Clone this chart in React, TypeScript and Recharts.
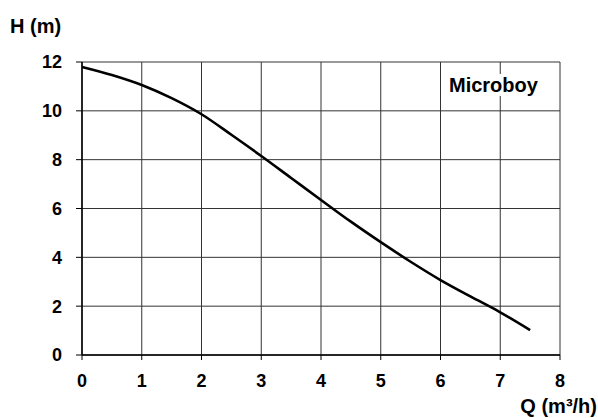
import { LineChart, Line, XAxis, YAxis, CartesianGrid } from 'recharts';

const flowQ = [0, 0.5, 1, 1.5, 2, 2.5, 3, 3.5, 4, 4.5, 5, 5.5, 6, 6.5, 7, 7.5];
const headH = [11.8, 11.47, 11.06, 10.52, 9.86, 9.02, 8.15, 7.25, 6.35, 5.46, 4.62, 3.82, 3.07, 2.4, 1.75, 1.02];
const xTicks = [0, 1, 2, 3, 4, 5, 6, 7, 8];
const yTicks = [0, 2, 4, 6, 8, 10, 12];

const chartData = flowQ.map((q, i) => ({ q, h: headH[i] }));

const font = '"Liberation Sans", Arial, sans-serif';
const tickStyle = { fill: '#000', fontSize: 18, fontWeight: 700, fontFamily: font };

export default function App() {
    return (
        <div style={{ position: 'absolute', left: 0, top: 0, width: 598, height: 418, background: '#fff', fontFamily: font, overflow: 'hidden' }}>
            <LineChart
                width={598}
                height={418}
                data={chartData}
                margin={{ top: 62, right: 38, bottom: 33, left: 0 }}
            >
                <CartesianGrid stroke="#333" strokeWidth={1} />
                <XAxis
                    dataKey="q"
                    type="number"
                    domain={[0, 8]}
                    ticks={xTicks}
                    height={30}
                    tick={tickStyle}
                    tickSize={5}
                    tickMargin={14}
                    axisLine={{ stroke: '#000', strokeWidth: 1.5 }}
                    tickLine={{ stroke: '#000' }}
                />
                <YAxis
                    type="number"
                    domain={[0, 12]}
                    ticks={yTicks}
                    width={82}
                    tick={tickStyle}
                    tickSize={6}
                    tickMargin={14}
                    axisLine={{ stroke: '#000', strokeWidth: 1.5 }}
                    tickLine={{ stroke: '#000' }}
                />
                <Line
                    dataKey="h"
                    type="monotone"
                    stroke="#000"
                    strokeWidth={2.6}
                    dot={false}
                    isAnimationActive={false}
                />
            </LineChart>
            <div style={{ position: 'absolute', left: 10, top: 16, fontSize: 20, fontWeight: 700, lineHeight: 1 }}>H (m)</div>
            <div style={{ position: 'absolute', right: 1, top: 396, fontSize: 20, fontWeight: 700, lineHeight: 1 }}>Q (m³/h)</div>
            <div style={{ position: 'absolute', left: 447, top: 74, fontSize: 20, fontWeight: 700, lineHeight: 1, background: '#fff', padding: '1px 2px' }}>Microboy</div>
        </div>
    );
}
